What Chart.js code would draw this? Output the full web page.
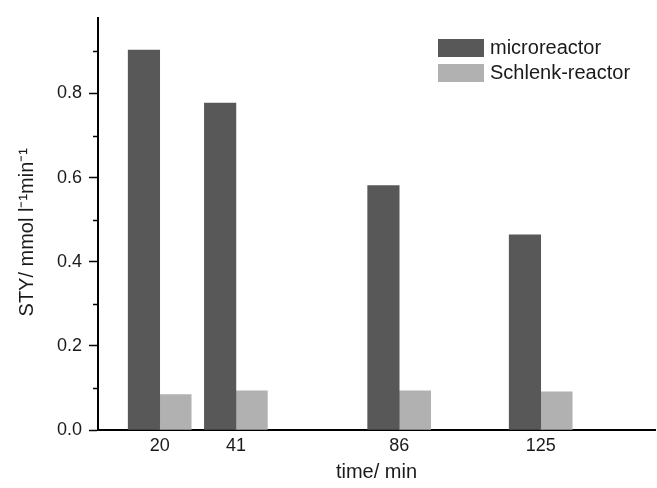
<!DOCTYPE html>
<html>
<head>
<meta charset="utf-8">
<script src="https://cdn.jsdelivr.net/npm/chart.js@4/dist/chart.umd.min.js"></script>
<style>
  body { margin: 0; background: #fff; }
  #wrap { position: relative; width: 657px; height: 488px; }
  #legend { position: absolute; left: 438px; top: 35px; font-family: 'Liberation Sans', Arial, sans-serif; font-size: 20px; color: #1a1a1a; }
  #legend .row { display: flex; align-items: center; height: 25px; }
  #legend .box { width: 46px; height: 18px; margin-right: 6px; }
</style>
</head>
<body>
<div id="wrap">
  <canvas id="chart" width="657" height="488"></canvas>
  <div id="legend"></div>
</div>
<script>
document.addEventListener('DOMContentLoaded', () => {

    // --- Data ---
    const times = [20, 41, 86, 125];
    const microreactor = [0.903, 0.777, 0.581, 0.464];
    const schlenk = [0.084, 0.093, 0.093, 0.091];
    const yTicks = [0, 0.2, 0.4, 0.6, 0.8];
    const yStep = 0.2;

    const toPoints = (vals) => vals.map((v, i) => ({ x: times[i], y: v }));

    const font = 'Liberation Sans, Arial, sans-serif';
    const darkGrey = '#585858';
    const lightGrey = '#b1b1b1';

    // short ticks half way between the labelled ones
    const minorTicks = {
        id: 'minorTicks',
        afterDraw(chart) {
            const s = chart.scales.y;
            const ctx = chart.ctx;
            ctx.save();
            ctx.strokeStyle = '#000';
            ctx.lineWidth = 1.5;
            s.ticks.forEach(t => {
                const m = t.value + yStep / 2;
                if (m <= s.max) {
                    const py = Math.round(s.getPixelForValue(m)) + 0.5;
                    ctx.beginPath();
                    ctx.moveTo(s.right - 5, py);
                    ctx.lineTo(s.right, py);
                    ctx.stroke();
                }
            });
            ctx.restore();
        }
    };

    const chart = new Chart(document.getElementById('chart'), {
        type: 'bar',
        data: {
            datasets: [{
                label: 'microreactor',
                data: toPoints(microreactor),
                backgroundColor: darkGrey,
                barThickness: 31.5
            }, {
                label: 'Schlenk-reactor',
                data: toPoints(schlenk),
                backgroundColor: lightGrey,
                barThickness: 31.5
            }]
        },
        options: {
            responsive: false,
            animation: false,
            layout: { padding: { top: 13, right: 2, bottom: 0, left: 0 } },
            plugins: { legend: { display: false }, tooltip: { enabled: false } },
            scales: {
                x: {
                    type: 'linear',
                    min: 3,
                    max: 156.5,
                    offset: false,
                    afterBuildTicks: (s) => { s.ticks = times.map(v => ({ value: v })); },
                    afterFit: (s) => { s.height = 58; },
                    grid: { display: false, drawTicks: false },
                    border: { display: true, color: '#000', width: 2 },
                    ticks: { padding: 5, color: '#1a1a1a', font: { family: font, size: 18 } },
                    title: { display: true, text: 'time/ min', color: '#1a1a1a', padding: { top: 0, bottom: 4 }, font: { family: font, size: 20 } }
                },
                y: {
                    min: 0,
                    max: 0.98,
                    afterBuildTicks: (s) => { s.ticks = yTicks.map(v => ({ value: v })); },
                    afterFit: (s) => { s.width = 98; },
                    grid: { drawOnChartArea: false, tickLength: 9, tickColor: '#000', tickWidth: 1.5 },
                    border: { display: true, color: '#000', width: 2 },
                    ticks: { padding: 7, color: '#1a1a1a', font: { family: font, size: 18 }, callback: (v) => v.toFixed(1) },
                    // trailing spaces nudge the label a bit lower, like the original
                    title: { display: true, text: 'STY/ mmol l\u207B\u00B9min\u207B\u00B9\u00A0\u00A0\u00A0', color: '#1a1a1a', padding: { top: 15, bottom: 0 }, font: { family: font, size: 20 } }
                }
            }
        },
        plugins: [minorTicks]
    });

    // legend drawn as html beside the plot
    const legend = document.getElementById('legend');
    chart.data.datasets.forEach(ds => {
        const row = document.createElement('div');
        row.className = 'row';
        const box = document.createElement('span');
        box.className = 'box';
        box.style.background = ds.backgroundColor;
        const txt = document.createElement('span');
        txt.textContent = ds.label;
        row.appendChild(box);
        row.appendChild(txt);
        legend.appendChild(row);
    });
});
</script>
</body>
</html>
